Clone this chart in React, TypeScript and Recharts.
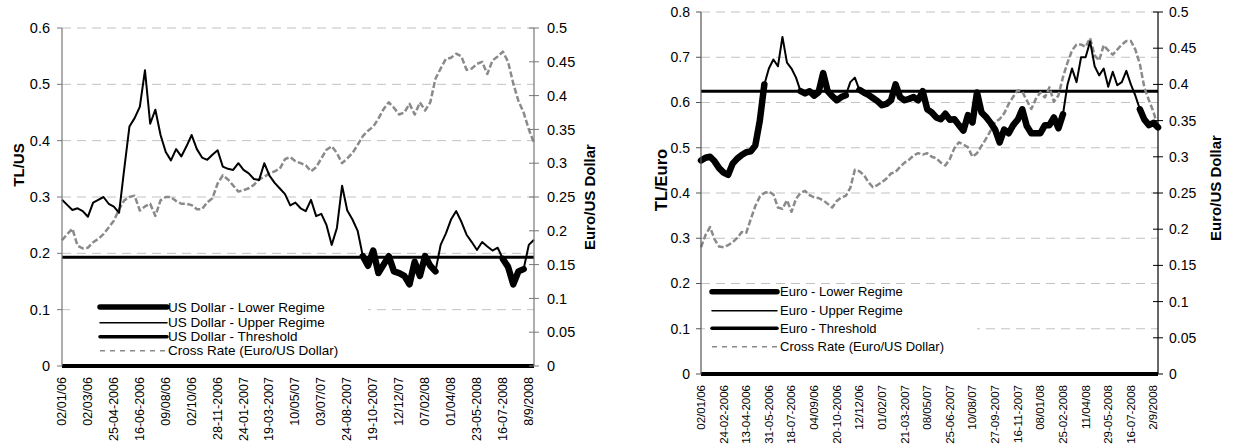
import React from 'react';
import { LineChart, Line, XAxis, YAxis, CartesianGrid, ReferenceLine } from 'recharts';

const FONT = '"Liberation Sans", Arial, Helvetica, sans-serif';

// ---------- Left panel: TL / US Dollar ----------
const usDateLabels = ['02/01/06', '02/03/06', '25-04-2006', '16-06-2006', '09/08/06', '02/10/06', '28-11-2006', '24-01-2007', '19-03-2007', '10/05/07', '03/07/07', '24-08-2007', '19-10-2007', '12/12/07', '07/02/08', '01/04/08', '23-05-2008', '16-07-2008', '8/9/2008'];
const usRate = [
  0.295, 0.286, 0.277, 0.28, 0.275, 0.265, 0.29, 0.295, 0.3, 0.288,
  0.283, 0.272, 0.35, 0.425, 0.44, 0.46, 0.525, 0.43, 0.455, 0.41,
  0.38, 0.365, 0.385, 0.372, 0.39, 0.41, 0.385, 0.37, 0.366, 0.375,
  0.383, 0.354, 0.35, 0.348, 0.36, 0.348, 0.342, 0.332, 0.33, 0.36,
  0.338, 0.325, 0.315, 0.305, 0.285, 0.29, 0.28, 0.275, 0.295, 0.266,
  0.27, 0.25, 0.215, 0.245, 0.32, 0.276, 0.26, 0.24, 0.195, 0.178,
  0.205, 0.165, 0.18, 0.195, 0.168, 0.165, 0.16, 0.145, 0.185, 0.16,
  0.195, 0.178, 0.168, 0.215, 0.235, 0.26, 0.275, 0.256, 0.233, 0.22,
  0.206, 0.22, 0.212, 0.205, 0.21, 0.19, 0.176, 0.145, 0.168, 0.172,
  0.215, 0.224,
];
const usCross = [
  0.186, 0.195, 0.203, 0.178, 0.174, 0.175, 0.183, 0.188, 0.195, 0.205,
  0.215, 0.232, 0.245, 0.25, 0.252, 0.23, 0.236, 0.24, 0.222, 0.245,
  0.25, 0.25, 0.244, 0.24, 0.24, 0.238, 0.232, 0.232, 0.242, 0.248,
  0.27, 0.282, 0.276, 0.267, 0.258, 0.26, 0.263, 0.268, 0.276, 0.28,
  0.285, 0.288, 0.292, 0.306, 0.309, 0.303, 0.3, 0.297, 0.288, 0.294,
  0.307, 0.32, 0.325, 0.315, 0.3, 0.307, 0.315, 0.327, 0.34, 0.348,
  0.354, 0.366, 0.38, 0.39, 0.382, 0.372, 0.375, 0.388, 0.372, 0.39,
  0.378, 0.39, 0.425, 0.44, 0.454, 0.456, 0.462, 0.458, 0.438, 0.44,
  0.447, 0.45, 0.432, 0.452, 0.458, 0.465, 0.45, 0.418, 0.392, 0.375,
  0.35, 0.33,
];
const usLowerRanges: [number, number][] = [[58, 72], [85, 89]];
const usThreshold = 0.193;
const usLeftTicks = [0, 0.1, 0.2, 0.3, 0.4, 0.5, 0.6];
const crossTicks = [0, 0.05, 0.1, 0.15, 0.2, 0.25, 0.3, 0.35, 0.4, 0.45, 0.5];
const usLegend = ['US Dollar - Lower Regime', 'US Dollar - Upper Regime', 'US Dollar - Threshold', 'Cross Rate (Euro/US Dollar)'];

// ---------- Right panel: TL / Euro ----------
const euroDateLabels = ['02/01/06', '24-02-2006', '13-04-2006', '31-05-2006', '18-07-2006', '04/09/06', '20-10-2006', '12/12/06', '01/02/07', '21-03-2007', '08/05/07', '25-06-2007', '10/08/07', '27-09-2007', '16-11-2007', '08/01/08', '25-02-2008', '11/04/08', '29-05-2008', '16-07-2008', '2/9/2008'];
const euroRate = [
  0.472, 0.478, 0.48, 0.47, 0.455, 0.445, 0.44, 0.465, 0.476, 0.484,
  0.49, 0.492, 0.505, 0.56, 0.64, 0.675, 0.695, 0.68, 0.745, 0.688,
  0.675, 0.655, 0.625, 0.62, 0.625, 0.615, 0.623, 0.665, 0.625, 0.614,
  0.605, 0.612, 0.616, 0.645, 0.655, 0.628, 0.622, 0.617, 0.61, 0.603,
  0.594, 0.597, 0.605, 0.64, 0.612, 0.605, 0.608, 0.612, 0.605, 0.625,
  0.585, 0.578, 0.567, 0.563, 0.575, 0.562, 0.563, 0.55, 0.538, 0.572,
  0.556, 0.622, 0.578, 0.568, 0.555, 0.54, 0.512, 0.54, 0.532, 0.55,
  0.562, 0.585, 0.548, 0.532, 0.532, 0.532, 0.55, 0.55, 0.567, 0.543,
  0.574, 0.64, 0.675, 0.645, 0.7, 0.7, 0.735, 0.68, 0.66, 0.675,
  0.635, 0.668, 0.638, 0.645, 0.67, 0.64, 0.615, 0.585, 0.562, 0.55,
  0.555, 0.545,
];
const euroCross = [
  0.175, 0.192, 0.203, 0.186, 0.176, 0.175, 0.178, 0.182, 0.188, 0.196,
  0.195, 0.214, 0.232, 0.245, 0.25, 0.252, 0.248, 0.23, 0.228, 0.24,
  0.224, 0.242, 0.25, 0.253, 0.247, 0.244, 0.243, 0.24, 0.235, 0.23,
  0.239, 0.244, 0.246, 0.257, 0.282, 0.28, 0.275, 0.265, 0.258, 0.261,
  0.265, 0.27, 0.277, 0.279, 0.286, 0.292, 0.296, 0.302, 0.305, 0.303,
  0.305, 0.3, 0.298, 0.292, 0.288, 0.297, 0.312, 0.32, 0.317, 0.313,
  0.3, 0.305, 0.315, 0.325, 0.336, 0.348, 0.352, 0.36, 0.373, 0.383,
  0.392, 0.39, 0.378, 0.366, 0.38, 0.389, 0.382, 0.396, 0.376, 0.385,
  0.41, 0.43, 0.447, 0.455, 0.455, 0.452, 0.464, 0.44, 0.433, 0.454,
  0.447, 0.441, 0.448, 0.455, 0.46, 0.46, 0.448, 0.428, 0.395, 0.378,
  0.362, 0.34,
];
const euroLowerRanges: [number, number][] = [[0, 14], [22, 32], [35, 80], [97, 101]];
const euroThreshold = 0.625;
const euroLeftTicks = [0, 0.1, 0.2, 0.3, 0.4, 0.5, 0.6, 0.7, 0.8];
const euroLegend = ['Euro - Lower Regime', 'Euro - Upper Regime', 'Euro - Threshold', 'Cross Rate (Euro/US Dollar)'];

const LABEL_EVERY = 5;

function buildRows(rate: number[], cross: number[], ranges: [number, number][]) {
  const inLower = (i: number) => ranges.some(([a, b]) => i >= a && i <= b);
  const isEdge = (i: number) => ranges.some(([a, b]) => i === a || i === b);
  return rate.map((v, i) => ({
    i,
    lower: inLower(i) ? v : null,
    upper: !inLower(i) || isEdge(i) ? v : null,
    cross: cross[i],
  }));
}

type PanelProps = {
  left: number;
  width: number;
  height: number;
  plotLeft: number;
  plotRight: number;
  plotTop: number;
  plotBottom: number;
  rate: number[];
  cross: number[];
  ranges: [number, number][];
  threshold: number;
  labels: string[];
  leftTicks: number[];
  leftMax: number;
  xFont: number;
  yFont: number;
  leftAxisColor: string;
  rightAxisColor: string;
  leftGap: number;
  rightGap: number;
};

function Panel(p: PanelProps) {
  const rows = buildRows(p.rate, p.cross, p.ranges);
  const n = rows.length;
  const xTicks = p.labels.map((_, k) => k * LABEL_EVERY);
  const rightX = p.plotRight;
  const leftX = p.plotLeft;

  const XTick = (props: any) => {
    const { x, y, payload } = props;
    const label = p.labels[Math.round(payload.value / LABEL_EVERY)];
    return (
      <text x={x} y={y} transform={`rotate(-90 ${x} ${y})`} textAnchor="end" dominantBaseline="central"
        fontSize={p.xFont} fontFamily={FONT} fill="#000">{label}</text>
    );
  };
  const LeftTick = (props: any) => {
    const { y, payload } = props;
    return (
      <g>
        <line x1={leftX - 5} x2={leftX} y1={y} y2={y} stroke={p.leftAxisColor} strokeWidth={1} />
        <text x={leftX - p.leftGap} y={y} dy="0.355em" textAnchor="end" fontSize={p.yFont} fontFamily={FONT} fill="#000">{String(payload.value)}</text>
      </g>
    );
  };
  const RightTick = (props: any) => {
    const { y, payload } = props;
    return (
      <g>
        <line x1={rightX - 5} x2={rightX + 5} y1={y} y2={y} stroke={p.rightAxisColor} strokeWidth={1} />
        <text x={rightX + p.rightGap} y={y} dy="0.355em" textAnchor="start" fontSize={p.yFont} fontFamily={FONT} fill="#000">{String(payload.value)}</text>
      </g>
    );
  };

  return (
    <div style={{ position: 'absolute', left: p.left, top: 0 }}>
      <LineChart
        width={p.width}
        height={p.height}
        data={rows}
        margin={{ top: p.plotTop, right: 0, bottom: 0, left: 0 }}
      >
        <CartesianGrid yAxisId="left" vertical={false} stroke="#c2c2c2" strokeDasharray="9 6" />
        <XAxis
          dataKey="i"
          type="number"
          domain={[0, n - 1]}
          ticks={xTicks}
          interval={0}
          height={p.height - p.plotBottom}
          tick={XTick}
          tickLine={false}
          tickSize={6}
          tickMargin={5}
          axisLine={{ stroke: '#000', strokeWidth: 4 }}
        />
        <YAxis
          yAxisId="left"
          orientation="left"
          width={p.plotLeft}
          domain={[0, p.leftMax]}
          ticks={p.leftTicks}
          interval={0}
          tick={LeftTick}
          tickLine={false}
          axisLine={{ stroke: p.leftAxisColor, strokeWidth: 1.2 }}
        />
        <YAxis
          yAxisId="right"
          orientation="right"
          width={p.width - p.plotRight}
          domain={[0, 0.5]}
          ticks={crossTicks}
          interval={0}
          tick={RightTick}
          tickLine={false}
          axisLine={{ stroke: p.rightAxisColor, strokeWidth: 1.2 }}
        />
        <ReferenceLine yAxisId="left" y={p.threshold} stroke="#000" strokeWidth={3} />
        <Line yAxisId="right" dataKey="cross" type="linear" stroke="#8a8a8a" strokeWidth={2.5}
          strokeDasharray="6 2.5" strokeLinejoin="round" dot={false} isAnimationActive={false} connectNulls={false} />
        <Line yAxisId="left" dataKey="upper" type="linear" stroke="#000" strokeWidth={2}
          strokeLinejoin="round" dot={false} isAnimationActive={false} connectNulls={false} />
        <Line yAxisId="left" dataKey="lower" type="linear" stroke="#000" strokeWidth={6.5}
          strokeLinejoin="round" strokeLinecap="round" dot={false} isAnimationActive={false} connectNulls={false} />
      </LineChart>
    </div>
  );
}

type LegendProps = { x0: number; y0: number; x1: number; y1: number; rows: number[]; sx0: number; sx1: number; tx: number; font: number; names: string[] };
function LegendBox(l: LegendProps) {
  const styles = [
    { w: 5.5, dash: undefined as string | undefined, c: '#000' },
    { w: 1.5, dash: undefined as string | undefined, c: '#000' },
    { w: 3.5, dash: undefined as string | undefined, c: '#000' },
    { w: 1.5, dash: '5 5', c: '#8a8a8a' },
  ];
  return (
    <g>
      <rect x={l.x0} y={l.y0} width={l.x1 - l.x0} height={l.y1 - l.y0} fill="#fff" />
      {l.names.map((name, k) => (
        <g key={name}>
          <line x1={l.sx0} x2={l.sx1} y1={l.rows[k]} y2={l.rows[k]} stroke={styles[k].c} strokeWidth={styles[k].w}
            strokeDasharray={styles[k].dash} strokeLinecap={styles[k].dash ? 'butt' : 'round'} />
          <text x={l.tx} y={l.rows[k]} dominantBaseline="central" fontSize={l.font} fontFamily={FONT} fill="#000">{name}</text>
        </g>
      ))}
    </g>
  );
}

function Title({ text, cx, cy, size }: { text: string; cx: number; cy: number; size: number }) {
  return (
    <div style={{
      position: 'absolute', left: cx, top: cy, transform: 'translate(-50%, -50%) rotate(-90deg)',
      whiteSpace: 'nowrap', fontFamily: FONT, fontWeight: 'bold', fontSize: size, color: '#000', lineHeight: 1,
    }}>{text}</div>
  );
}

export default function App() {
  return (
    <div style={{ position: 'absolute', left: 0, top: 0, width: 1234, height: 446, background: '#fff', overflow: 'hidden' }}>
      <Panel left={0} width={600} height={446} plotLeft={62} plotRight={534} plotTop={28} plotBottom={366}
        rate={usRate} cross={usCross} ranges={usLowerRanges} threshold={usThreshold} labels={usDateLabels}
        leftTicks={usLeftTicks} leftMax={0.6} xFont={12.5} yFont={14.5} leftAxisColor="#777" rightAxisColor="#777"
        leftGap={12} rightGap={13} />
      <Panel left={620} width={614} height={446} plotLeft={81} plotRight={538} plotTop={12} plotBottom={374}
        rate={euroRate} cross={euroCross} ranges={euroLowerRanges} threshold={euroThreshold} labels={euroDateLabels}
        leftTicks={euroLeftTicks} leftMax={0.8} xFont={11.5} yFont={14} leftAxisColor="#555" rightAxisColor="#000"
        leftGap={11} rightGap={11} />
      <svg width={1234} height={446} style={{ position: 'absolute', left: 0, top: 0, pointerEvents: 'none' }}>
        <LegendBox x0={70} y0={292} x1={368} y1={360} rows={[307, 322.7, 336.7, 350.7]} sx0={100} sx1={167} tx={168}
          font={13.5} names={usLegend} />
        <LegendBox x0={705} y0={286} x1={977} y1={360} rows={[291.7, 310.7, 328.3, 346.7]} sx0={712} sx1={777} tx={780}
          font={13} names={euroLegend} />
      </svg>
      <Title text="TL/US" cx={17.5} cy={165} size={15} />
      <Title text="Euro/US Dollar" cx={589} cy={197} size={15} />
      <Title text="TL/Euro" cx={661} cy={180} size={16.5} />
      <Title text="Euro/US Dollar" cx={1215} cy={188} size={15} />
    </div>
  );
}
